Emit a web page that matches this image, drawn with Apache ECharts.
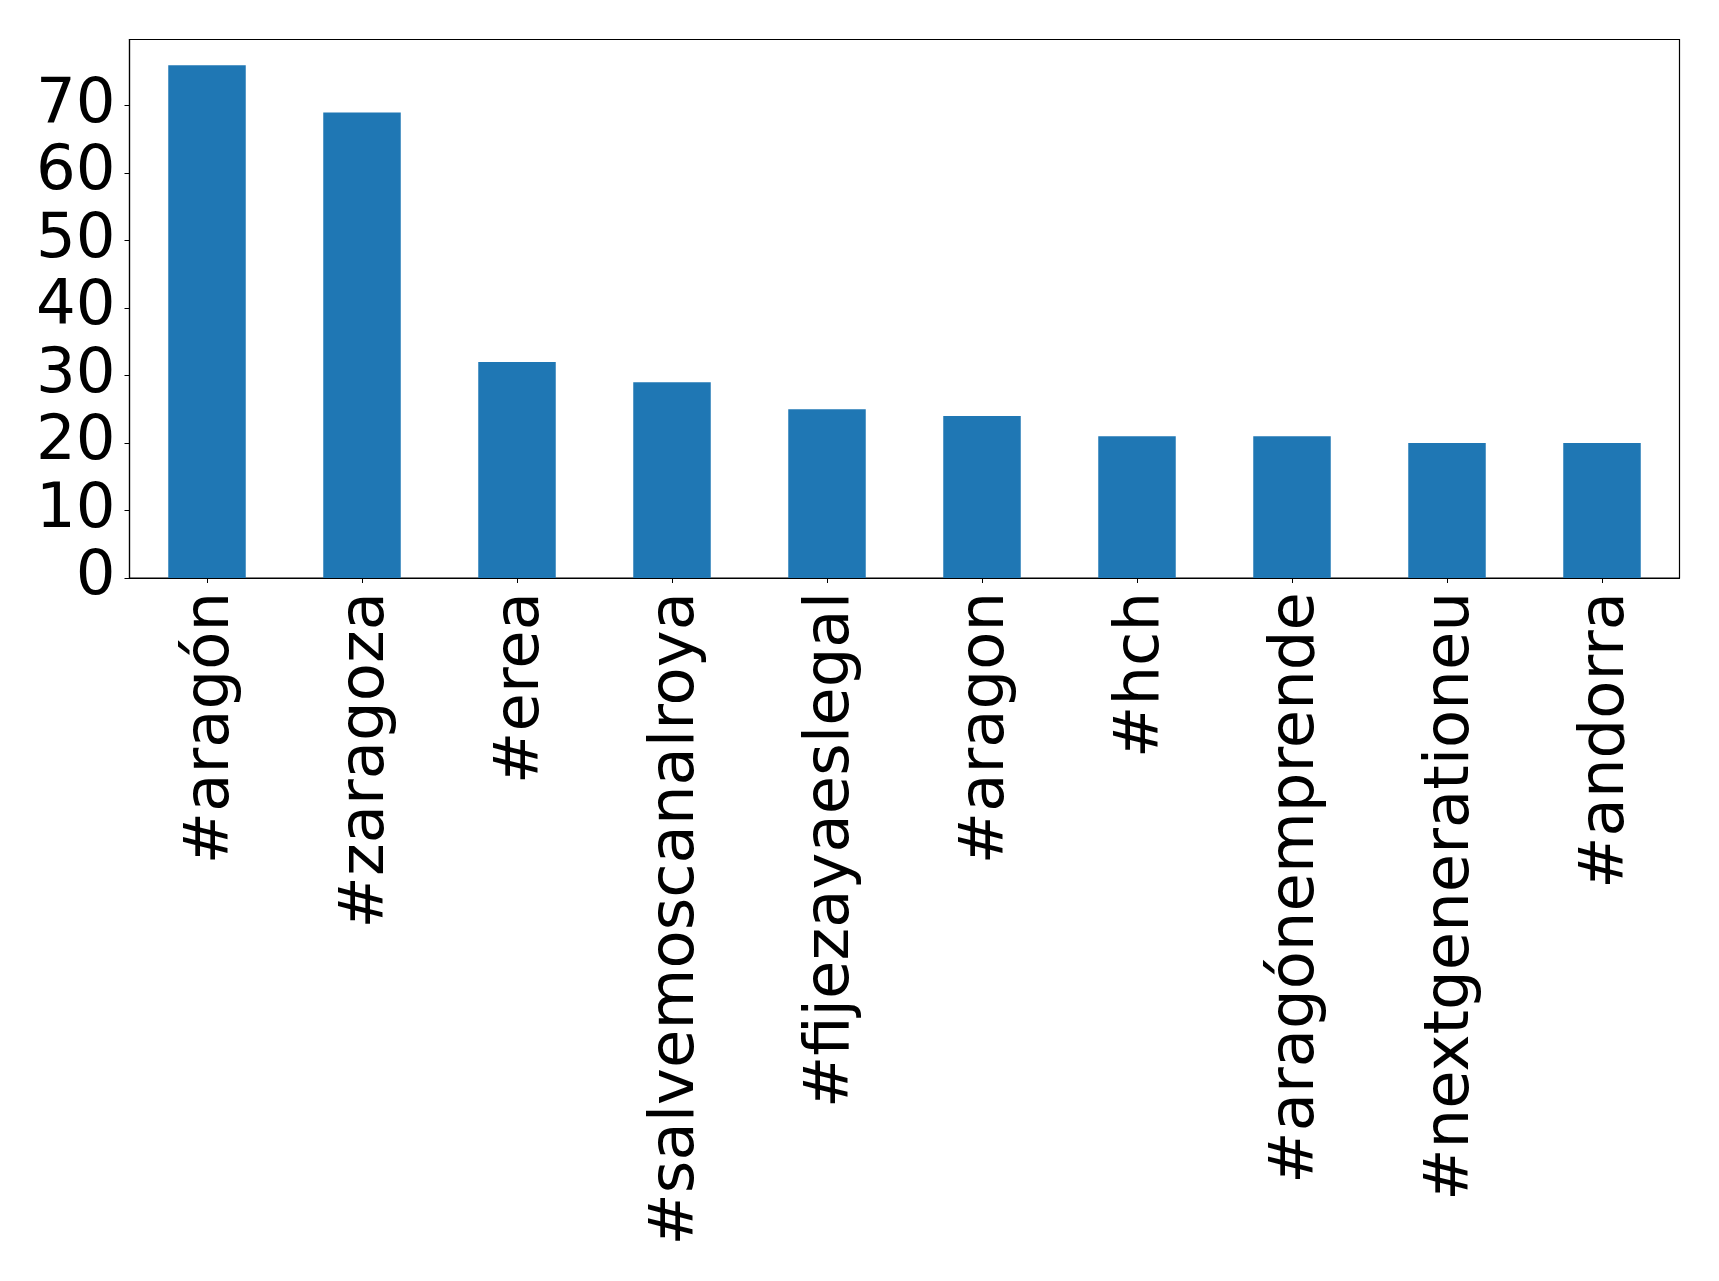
<!DOCTYPE html>
<html>
<head>
<meta charset="utf-8">
<script src="https://cdn.jsdelivr.net/npm/echarts@6/dist/echarts.min.js"></script>
<style>
html,body{margin:0;padding:0;background:#fff;}
#chart{width:1719px;height:1281px;}
</style>
</head>
<body>
<div id="chart"></div>
<script>
const categories = ['#aragón', '#zaragoza', '#erea', '#salvemoscanalroya', '#fijezayaeslegal', '#aragon', '#hch', '#aragónemprende', '#nextgenerationeu', '#andorra'];
const counts = [76, 69, 32, 29, 25, 24, 21, 21, 20, 20];
const yTicks = [0, 10, 20, 30, 40, 50, 60, 70];

const chart = echarts.init(document.getElementById('chart'), null, {renderer: 'canvas'});
const font = 'DejaVu Sans';
chart.setOption({
  animation: false,
  backgroundColor: '#ffffff',
  grid: {
    left: 129.5, right: 39.5, top: 39.5, bottom: 703,
    show: true, borderColor: '#000', borderWidth: 1.2, backgroundColor: 'transparent'
  },
  xAxis: {
    type: 'category',
    data: categories,
    axisLine: {show: true, lineStyle: {color: '#000', width: 1.2}},
    axisTick: {show: true, alignWithLabel: true, length: 5, lineStyle: {color: '#000', width: 1}},
    axisLabel: {
      rotate: 90, interval: 0, margin: 14,
      verticalAlign: 'top', lineHeight: 10,
      fontFamily: font, fontSize: 62.5, color: '#000'
    },
    splitLine: {show: false}
  },
  yAxis: {
    type: 'value',
    min: 0, max: 79.8, interval: 10,
    axisLine: {show: true, lineStyle: {color: '#000', width: 1.2}},
    axisTick: {show: true, length: 5, lineStyle: {color: '#000', width: 1}},
    axisLabel: {
      margin: 14, fontFamily: font, fontSize: 62.5, color: '#000',
      showMaxLabel: false,
      formatter: function (v) { return yTicks.indexOf(v) >= 0 ? String(v) : ''; }
    },
    splitLine: {show: false}
  },
  series: [{
    type: 'bar',
    data: counts,
    barCategoryGap: '50%',
    itemStyle: {color: '#1f77b4'}
  }]
});
</script>
</body>
</html>
